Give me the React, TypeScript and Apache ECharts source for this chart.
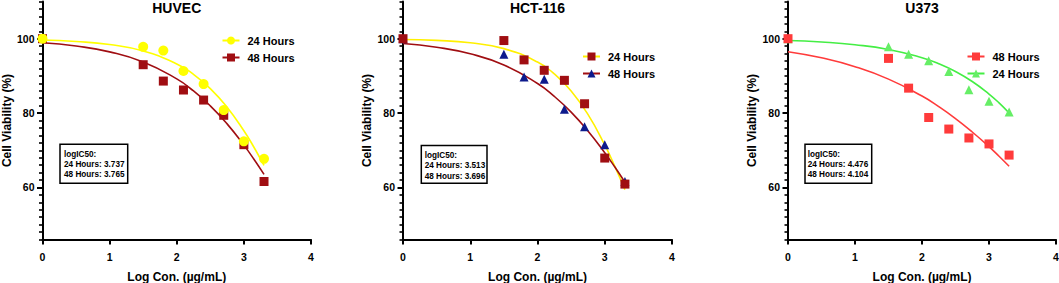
import React, { useEffect, useRef } from "react";
import * as echarts from "echarts";

// measured log concentrations
const doseLog = [0, 1.5, 1.8, 2.1, 2.4, 2.7, 3.0, 3.3];
// x positions at which the fitted curves were read
const fitLog = [0, 0.5, 1, 1.5, 2, 2.25, 2.5, 2.75, 3, 3.15, 3.3];

// HUVEC
const huvec24Pts = [100, 97.8, 96.8, 91.3, 87.8, 80.8, 72.4, 67.7];
const huvec48Pts = [100, 93.0, 88.6, 86.2, 83.5, 79.4, 71.5, 61.6];
const huvec24Fit = [99.65, 99.25, 98.42, 96.68, 93.21, 90.4, 86.59, 81.59, 75.24, 70.8, 65.9];
const huvec48Fit = [98.9, 98.02, 96.46, 93.74, 89.18, 85.94, 81.93, 77.09, 71.38, 67.58, 63.5];

// HCT-116
const hct24Pts = [100, 99.5, 94.3, 91.5, 88.8, 82.5, 67.9, 60.9];
const hct48Pts = [100, 95.8, 89.7, 89.1, 81.0, 76.3, 71.5, 61.6];
const hct24Fit = [99.8, 99.54, 98.89, 97.33, 93.72, 90.52, 85.93, 79.63, 71.43, 65.67, 59.4];
const hct48Fit = [98.7, 97.7, 95.93, 92.92, 87.95, 84.48, 80.26, 75.19, 69.33, 65.48, 61.4];

// U373
const u48Pts = [100, 94.7, 86.7, 78.8, 75.7, 73.3, 71.7, 68.7];
const u24Pts = [100, 97.8, 95.8, 94.1, 91.2, 86.3, 83.2, 80.3];
const u48Fit = [96.5, 94.85, 92.48, 89.13, 84.57, 81.73, 78.52, 74.91, 70.97, 68.38, 65.7];
const u24Fit = [99.5, 99.1, 98.38, 97.11, 94.9, 93.27, 91.17, 88.48, 85.11, 82.72, 80.0];

const panelTitles = ["HUVEC", "HCT-116", "U373"];
const ic50Texts = [
  ["logIC50:", "24 Hours: 3.737", "48 Hours: 3.765"],
  ["logIC50:", "24 Hours: 3.513", "48 Hours: 3.696"],
  ["logIC50:", "24 Hours: 4.476", "48 Hours: 4.104"],
];
const yMajorTicks = [60, 80, 100];

const FONT = "'Liberation Sans', Arial, Helvetica, sans-serif";

// legend order: first entry drawn on top
const panelSets = [
  [
    { label: "24 Hours", pts: huvec24Pts, fit: huvec24Fit, color: "#FFFF00", symbol: "circle", size: 10 },
    { label: "48 Hours", pts: huvec48Pts, fit: huvec48Fit, color: "#A00E12", symbol: "rect", size: 9 },
  ],
  [
    { label: "24 Hours", pts: hct24Pts, fit: hct24Fit, color: "#A00E12", symbol: "rect", size: 9, lineColor: "#FFF000" },
    { label: "48 Hours", pts: hct48Pts, fit: hct48Fit, color: "#0D1A8C", symbol: "triangle", size: 9, lineColor: "#A00E12" },
  ],
  [
    { label: "48 Hours", pts: u48Pts, fit: u48Fit, color: "#FF3B3B", symbol: "rect", size: 9 },
    { label: "24 Hours", pts: u24Pts, fit: u24Fit, color: "#66EE66", symbol: "triangle", size: 9, lineColor: "#44EE44" },
  ],
];

const grids = [
  { left: 42.5, width: 268.5 },
  { left: 403, width: 269 },
  { left: 788, width: 268 },
];
const GRID_TOP = 1.5;
const GRID_H = 238;

const legendPos = [
  { left: 216.5, top: 30 },
  { left: 577, top: 46 },
  { left: 961.5, top: 46 },
];
const boxes = [
  { x: 60, y: 144.3, w: 67.7, h: 39, tx: 64 },
  { x: 421.3, y: 145.5, w: 65.7, h: 37.8, tx: 424.7 },
  { x: 805, y: 144.3, w: 66.7, h: 39, tx: 807.7 },
];

export default function App() {
  const ref = useRef<HTMLDivElement>(null);
  useEffect(() => {
    if (!ref.current) return;
    const chart = echarts.init(ref.current, undefined, { renderer: "svg" });

    const xAxis: any[] = [];
    const yAxis: any[] = [];
    const series: any[] = [];
    const legend: any[] = [];
    const graphic: any[] = [];

    grids.forEach((g, i) => {
      xAxis.push({
        type: "value",
        gridIndex: i,
        min: 0,
        max: 4,
        interval: 1,
        axisLine: { show: true, onZero: false, lineStyle: { color: "#000", width: 2 } },
        axisTick: { show: true, length: 5, lineStyle: { color: "#000", width: 2 } },
        axisLabel: { color: "#000", fontWeight: "bold", fontSize: 10.5, fontFamily: FONT, margin: 12 },
        splitLine: { show: false },
        name: "Log Con. (µg/mL)",
        nameLocation: "middle",
        nameGap: 31,
        nameTextStyle: { color: "#000", fontWeight: "bold", fontSize: 12, fontFamily: FONT },
      });
      // axis line + minor ticks every 2 units
      yAxis.push({
        type: "value",
        gridIndex: i,
        min: 46,
        max: 110,
        interval: 2,
        position: "left",
        axisLine: { show: true, onZero: false, lineStyle: { color: "#000", width: 2 } },
        axisTick: { show: true, length: 3.5, lineStyle: { color: "#000", width: 1.6 } },
        axisLabel: { show: false },
        splitLine: { show: false },
        name: "Cell Viability (%)",
        nameLocation: "middle",
        nameGap: 30,
        nameTextStyle: { color: "#000", fontWeight: "bold", fontSize: 12, fontFamily: FONT },
      });
      // major ticks + labels
      yAxis.push({
        type: "value",
        gridIndex: i,
        min: 46,
        max: 110,
        position: "left",
        axisLine: { show: false, onZero: false },
        axisTick: { show: true, length: 5.5, lineStyle: { color: "#000", width: 2 }, customValues: yMajorTicks },
        axisLabel: { color: "#000", fontWeight: "bold", fontSize: 10.5, fontFamily: FONT, margin: 8, customValues: yMajorTicks },
        splitLine: { show: false },
      });

      const sets = panelSets[i];
      const names = sets.map((s) => `${i}|${s.label}`);
      sets.forEach((s: any, k) => {
        const name = names[k];
        series.push({
          type: "line",
          name,
          xAxisIndex: i,
          yAxisIndex: 2 * i,
          data: fitLog.map((x, j) => [x, s.fit[j]]),
          smooth: true,
          showSymbol: false,
          symbol: s.symbol,
          symbolSize: s.size,
          itemStyle: { color: s.color },
          lineStyle: { color: s.lineColor || s.color, width: 1.6 },
          z: 2,
          silent: true,
        });
        series.push({
          type: "scatter",
          name,
          xAxisIndex: i,
          yAxisIndex: 2 * i,
          data: doseLog.map((x, j) => [x, s.pts[j]]),
          symbol: s.symbol,
          symbolSize: s.size,
          itemStyle: { color: s.color, opacity: 1 },
          z: 5 - k,
          silent: true,
        });
      });

      legend.push({
        data: names,
        orient: "vertical",
        left: legendPos[i].left,
        top: legendPos[i].top,
        itemWidth: 17,
        itemHeight: 10,
        itemGap: 6,
        selectedMode: false,
        formatter: (n: string) => n.split("|")[1],
        textStyle: { color: "#000", fontWeight: "bold", fontSize: 11, fontFamily: FONT, padding: [0, 0, 0, 3] },
      });

      graphic.push({
        type: "text",
        x: g.left + g.width / 2,
        y: 7.5,
        style: {
          text: panelTitles[i],
          textAlign: "center",
          textVerticalAlign: "middle",
          font: `bold 14px ${FONT}`,
          fill: "#000",
        },
      });
      const b = boxes[i];
      graphic.push({
        type: "rect",
        shape: { x: b.x, y: b.y, width: b.w, height: b.h },
        style: { fill: "#fff", stroke: "#000", lineWidth: 1.5 },
        z: 10,
      });
      graphic.push({
        type: "text",
        x: b.tx,
        y: b.y + 4.6,
        z: 11,
        style: {
          text: ic50Texts[i].join("\n"),
          font: `bold 8.2px ${FONT}`,
          lineHeight: 10.4,
          fill: "#000",
          textAlign: "left",
          textVerticalAlign: "top",
        },
      });
    });

    chart.setOption({
      animation: false,
      backgroundColor: "#fff",
      grid: grids.map((g) => ({
        left: g.left,
        width: g.width,
        top: GRID_TOP,
        height: GRID_H,
        containLabel: false,
        outerBoundsMode: "none",
      })),
      xAxis,
      yAxis,
      series,
      legend,
      graphic,
    });
    return () => chart.dispose();
  }, []);
  return <div ref={ref} style={{ position: "fixed", left: 0, top: 0, width: 1059, height: 283 }} />;
}
